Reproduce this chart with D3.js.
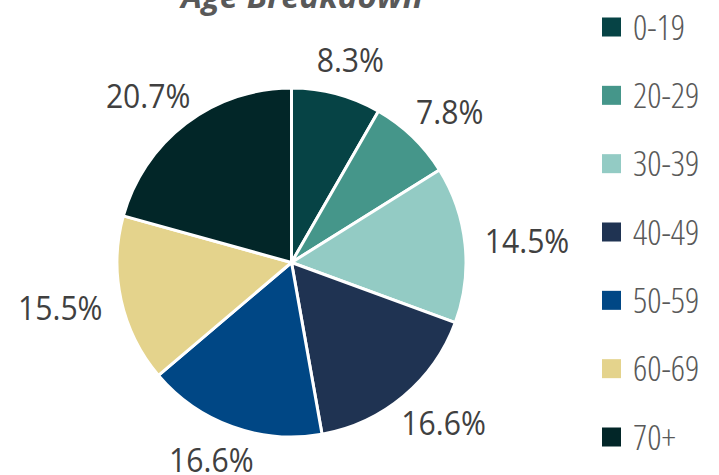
<!DOCTYPE html>
<html><head><meta charset="utf-8">
<script src="https://cdn.jsdelivr.net/npm/d3@7"></script>
<style>
html,body{margin:0;padding:0;background:#fff;overflow:hidden}
</style></head>
<body>
<svg id="chart" width="719" height="475"></svg>
<script>
const categories = ["0-19","20-29","30-39","40-49","50-59","60-69","70+"];
const values = [8.3, 7.8, 14.5, 16.6, 16.6, 15.5, 20.7];
const valueLabels = ["8.3%","7.8%","14.5%","16.6%","16.6%","15.5%","20.7%"];
const colors = ["#064345","#45968a","#93cbc4","#1f3352","#004785","#e4d38c","#022628"];
const title = "Age Breakdown";

const svg = d3.select("#chart");
const cx = 291.5, cy = 262.5, R = 174.5, gap = 20, boxH = 30, sx = 0.9;

const data = categories.map((c,i)=>({cat:c, value:values[i], label:valueLabels[i], color:colors[i]}));
const pie = d3.pie().value(d=>d.value).sort(null);
const arcs = pie(data);
const arc = d3.arc().innerRadius(0).outerRadius(R);

const g = svg.append("g").attr("transform",`translate(${cx},${cy})`);
g.selectAll("path").data(arcs).join("path")
  .attr("d",arc).attr("fill",d=>d.data.color)
  .attr("stroke","#fff").attr("stroke-width",3).attr("stroke-linejoin","round");

// outside-end labels: box pushed outward so its edge clears the pie
const lbl = g.selectAll("text.lbl").data(arcs).join("text").attr("class","lbl")
  .attr("text-anchor","middle").attr("dy","0.36em")
  .style("font-family","'Open Sans'").style("font-size","33.5px")
  .attr("fill","#404040").text(d=>d.data.label);
lbl.attr("transform",function(d){
  const w = this.getComputedTextLength()*sx;
  const a = (d.startAngle+d.endAngle)/2;
  const dx = Math.sin(a), dy = -Math.cos(a);
  const x = dx*(R+gap) + dx*w/2;
  const y = dy*(R+gap) + dy*boxH/2;
  return `translate(${x},${y}) scale(${sx},1)`;
});

svg.append("text").attr("x",302).attr("y",8).attr("text-anchor","middle")
  .style("font-family","'Open Sans'").style("font-size","33px").style("font-weight","bold").style("font-style","italic")
  .attr("fill","#595959").text(title);

const ly = d3.scalePoint().domain(categories).range([27,437]);
const leg = svg.append("g");
const items = leg.selectAll("g").data(data).join("g").attr("transform",d=>`translate(602,${ly(d.cat)})`);
items.append("rect").attr("x",0).attr("y",-9.5).attr("width",19).attr("height",19).attr("fill",d=>d.color);
items.append("text").attr("x",31).attr("dy","0.36em")
  .style("font-family","'Open Sans'").style("font-size","35px").style("font-weight","300").style("font-stretch","condensed")
  .attr("fill","#595959").text(d=>d.cat);
</script>
</body></html>
